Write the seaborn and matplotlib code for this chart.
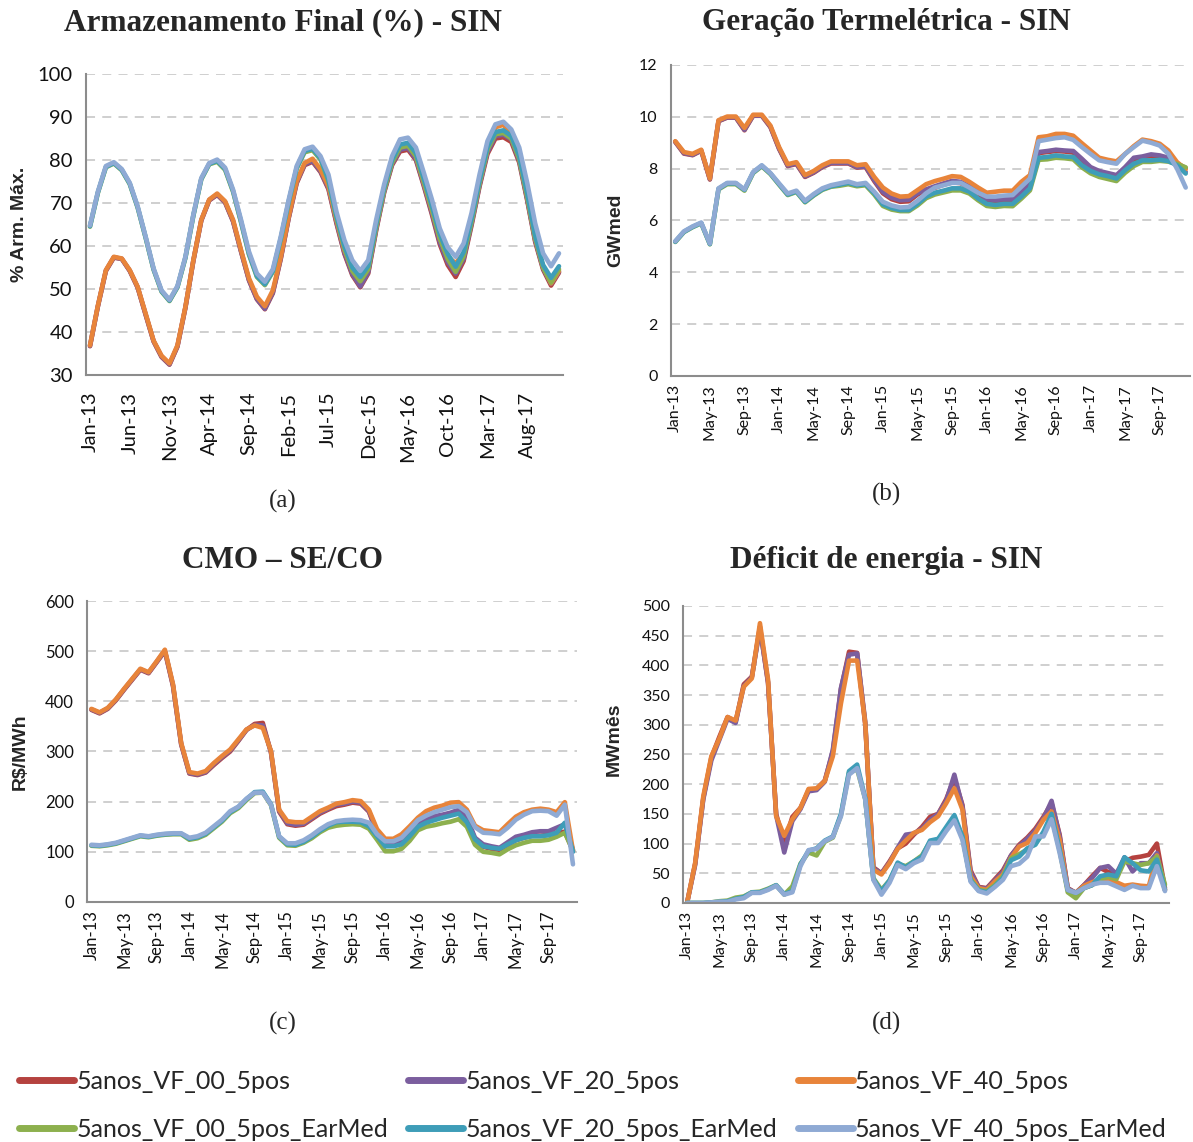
import numpy as np
import pandas as pd
import seaborn as sns
import matplotlib.pyplot as plt
from matplotlib.lines import Line2D

# eixo de meses (Jan-13 .. Dec-17)
meses = pd.date_range('2013-01-01', periods=60, freq='MS').strftime('%b-%y').tolist()

series = ['5anos_VF_00_5pos', '5anos_VF_20_5pos', '5anos_VF_40_5pos',
          '5anos_VF_00_5pos_EarMed', '5anos_VF_20_5pos_EarMed', '5anos_VF_40_5pos_EarMed']
cores = ['#B5423F', '#7B5E9E', '#E8843A', '#8DB04E', '#3E9DB8', '#8FAAD4']

# (a) Armazenamento final (%)
arm_00 = [36.7, 46.0, 54.2, 57.3, 57.0, 54.2, 50.3, 44.0, 37.8, 34.2, 32.4, 36.6, 45.6, 56.5, 65.9, 70.6, 71.9, 70.1, 65.7, 58.7,
          52.0, 47.6, 45.3, 49.0, 57.0, 66.5, 74.6, 78.8, 79.6, 77.2, 73.2, 65.3, 58.2, 53.2, 50.4, 53.6, 63.6, 72.4, 78.8, 82.0,
          82.4, 80.0, 73.9, 67.4, 60.4, 55.6, 52.8, 56.5, 64.8, 73.8, 81.4, 85.0, 85.3, 84.2, 79.4, 70.6, 61.0, 54.5, 50.8, 53.8]
arm_20 = [36.8, 46.1, 54.3, 57.4, 57.0, 54.3, 50.4, 44.1, 37.9, 34.3, 32.5, 36.7, 45.7, 56.6, 66.0, 70.7, 72.0, 70.2, 65.8, 58.8,
          52.1, 47.7, 45.4, 49.2, 57.2, 66.6, 74.8, 79.0, 79.8, 77.4, 73.5, 65.6, 58.5, 53.5, 50.6, 53.9, 63.9, 72.6, 79.1, 82.4,
          82.8, 80.3, 74.2, 67.8, 60.9, 56.2, 53.6, 57.0, 65.2, 74.1, 81.8, 85.6, 85.9, 84.8, 79.8, 70.9, 61.3, 54.8, 51.2, 54.0]
arm_40 = [36.9, 46.2, 54.4, 57.5, 57.1, 54.4, 50.5, 44.3, 38.0, 34.5, 32.7, 36.9, 45.8, 56.7, 66.1, 70.8, 72.2, 70.4, 66.1, 59.1,
          52.5, 48.2, 46.0, 49.7, 57.5, 66.9, 75.1, 79.3, 80.3, 77.8, 73.9, 66.1, 59.1, 54.4, 52.1, 54.8, 64.5, 73.1, 79.7, 83.2,
          83.6, 80.9, 74.7, 68.4, 61.8, 57.5, 56.0, 58.3, 66.1, 74.7, 82.5, 87.6, 88.2, 86.0, 80.5, 71.5, 61.8, 55.2, 51.3, 54.2]
arm_00_em = [64.5, 72.4, 78.3, 79.2, 77.6, 74.4, 68.9, 61.9, 54.5, 49.4, 47.2, 50.4, 57.2, 67.0, 75.5, 79.0, 79.6, 77.7, 72.6, 65.5,
             58.0, 52.8, 50.9, 54.0, 61.6, 70.2, 78.0, 81.8, 82.3, 80.1, 75.0, 66.5, 59.4, 54.2, 51.8, 54.6, 64.4, 73.0, 79.4, 82.9,
             83.3, 80.9, 74.9, 68.6, 61.8, 57.0, 54.0, 57.6, 65.6, 74.6, 82.4, 86.0, 86.3, 85.0, 80.2, 71.4, 61.8, 55.0, 51.5, 54.6]
arm_20_em = [64.6, 72.5, 78.4, 79.3, 77.7, 74.5, 69.0, 62.0, 54.6, 49.5, 47.3, 50.5, 57.3, 67.1, 75.6, 79.1, 79.8, 77.9, 72.8, 65.7,
             58.2, 53.0, 51.1, 54.2, 61.8, 70.4, 78.2, 82.1, 82.6, 80.4, 75.4, 67.0, 60.0, 55.0, 52.8, 55.4, 65.1, 73.6, 80.0, 83.6,
             84.0, 81.6, 75.6, 69.4, 62.8, 58.2, 55.2, 58.6, 66.4, 75.2, 83.0, 86.5, 86.9, 85.6, 80.9, 72.2, 62.4, 55.6, 52.6, 55.3]
arm_40_em = [64.8, 72.7, 78.6, 79.5, 77.9, 74.7, 69.2, 62.2, 54.8, 49.7, 47.5, 50.7, 57.5, 67.3, 75.8, 79.3, 80.1, 78.2, 73.1, 66.1,
             58.7, 53.6, 51.7, 54.6, 62.2, 70.8, 78.6, 82.5, 83.1, 80.9, 76.6, 68.0, 61.4, 56.7, 54.2, 56.7, 66.1, 74.3, 80.9, 84.8,
             85.2, 82.9, 77.0, 70.9, 64.1, 59.7, 57.5, 60.6, 67.7, 76.6, 84.4, 88.3, 88.9, 87.1, 82.9, 74.7, 65.3, 58.3, 55.3, 58.3]

# (b) Geracao termeletrica (GWmed)
gt_00 = [9.03, 8.58, 8.52, 8.69, 7.58, 9.83, 9.97, 9.97, 9.48, 10.04, 10.04, 9.60, 8.76, 8.10, 8.18, 7.68, 7.84, 8.06, 8.20, 8.20,
         8.20, 8.04, 8.06, 7.52, 7.05, 6.82, 6.72, 6.74, 7.00, 7.18, 7.26, 7.38, 7.47, 7.44, 7.26, 7.05, 6.76, 6.73, 6.76, 6.76,
         7.05, 7.38, 8.60, 8.64, 8.68, 8.66, 8.62, 8.32, 8.00, 7.85, 7.77, 7.70, 8.00, 8.36, 8.42, 8.50, 8.46, 8.38, 8.20, 8.02]
gt_20 = [9.04, 8.60, 8.53, 8.70, 7.60, 9.84, 9.98, 9.98, 9.50, 10.05, 10.05, 9.62, 8.78, 8.12, 8.20, 7.70, 7.86, 8.08, 8.22, 8.22,
         8.22, 8.06, 8.08, 7.56, 7.10, 6.88, 6.78, 6.80, 7.05, 7.20, 7.32, 7.43, 7.53, 7.49, 7.32, 7.11, 6.82, 6.79, 6.82, 6.82,
         7.11, 7.43, 8.64, 8.68, 8.73, 8.70, 8.68, 8.38, 8.06, 7.91, 7.83, 7.75, 8.06, 8.42, 8.47, 8.55, 8.51, 8.42, 8.19, 7.87]
gt_40 = [9.06, 8.64, 8.57, 8.73, 7.62, 9.87, 10.01, 10.01, 9.57, 10.08, 10.08, 9.66, 8.83, 8.17, 8.25, 7.75, 7.91, 8.13, 8.28, 8.28,
         8.28, 8.13, 8.17, 7.68, 7.27, 7.04, 6.92, 6.94, 7.17, 7.40, 7.52, 7.61, 7.71, 7.68, 7.49, 7.27, 7.07, 7.11, 7.15, 7.15,
         7.49, 7.75, 9.21, 9.25, 9.34, 9.34, 9.27, 8.98, 8.70, 8.42, 8.34, 8.28, 8.57, 8.87, 9.12, 9.06, 8.96, 8.70, 8.25, 7.98]
gt_00_em = [5.17, 5.55, 5.74, 5.89, 5.08, 7.20, 7.40, 7.40, 7.15, 7.83, 8.09, 7.79, 7.38, 6.98, 7.10, 6.70, 6.96, 7.18, 7.30, 7.34,
            7.40, 7.32, 7.36, 7.00, 6.56, 6.42, 6.36, 6.36, 6.58, 6.86, 7.00, 7.08, 7.16, 7.16, 7.04, 6.78, 6.56, 6.52, 6.56, 6.55,
            6.84, 7.16, 8.34, 8.36, 8.42, 8.40, 8.36, 8.05, 7.82, 7.68, 7.60, 7.52, 7.84, 8.10, 8.26, 8.26, 8.30, 8.27, 8.18, 8.05]
gt_20_em = [5.18, 5.56, 5.75, 5.90, 5.09, 7.22, 7.43, 7.43, 7.18, 7.85, 8.11, 7.81, 7.40, 7.00, 7.12, 6.72, 6.98, 7.20, 7.32, 7.38,
            7.45, 7.36, 7.40, 7.05, 6.62, 6.48, 6.40, 6.40, 6.64, 6.92, 7.07, 7.15, 7.24, 7.24, 7.11, 6.85, 6.64, 6.60, 6.64, 6.64,
            6.92, 7.24, 8.42, 8.45, 8.51, 8.47, 8.45, 8.13, 7.91, 7.78, 7.71, 7.62, 7.94, 8.19, 8.32, 8.32, 8.34, 8.29, 8.13, 7.81]
gt_40_em = [5.20, 5.58, 5.77, 5.92, 5.11, 7.24, 7.45, 7.45, 7.20, 7.87, 8.13, 7.83, 7.43, 7.04, 7.15, 6.76, 7.02, 7.24, 7.36, 7.43,
            7.50, 7.40, 7.45, 7.11, 6.72, 6.58, 6.50, 6.52, 6.76, 7.05, 7.27, 7.36, 7.45, 7.45, 7.27, 7.07, 6.92, 6.92, 6.96, 6.98,
            7.30, 7.62, 9.06, 9.12, 9.18, 9.21, 9.11, 8.83, 8.57, 8.32, 8.25, 8.19, 8.57, 8.83, 9.08, 9.00, 8.89, 8.57, 8.00, 7.27]

# (c) CMO SE/CO (R$/MWh)
cmo_00 = [383, 376, 385, 402, 423, 443, 463, 456, 478, 500, 430, 314, 256, 253, 258, 273, 287, 300, 321, 343,
          355, 357, 298, 180, 155, 152, 154, 165, 176, 184, 191, 194, 198, 196, 180, 135, 115, 115, 120, 135,
          155, 163, 168, 171, 174, 178, 165, 125, 110, 106, 104, 114, 123, 128, 132, 132, 134, 138, 140, 102]
cmo_20 = [384, 377, 386, 403, 424, 444, 464, 457, 479, 501, 432, 315, 257, 254, 259, 275, 289, 302, 322, 343,
          353, 352, 299, 182, 157, 154, 156, 167, 178, 186, 194, 196, 200, 198, 181, 141, 118, 118, 123, 139,
          158, 166, 171, 174, 178, 184, 168, 128, 115, 111, 108, 119, 130, 134, 139, 141, 141, 148, 155, 104]
cmo_40 = [385, 378, 387, 404, 425, 445, 465, 458, 480, 503, 434, 317, 259, 256, 261, 277, 291, 304, 324, 344,
          352, 347, 301, 184, 161, 159, 159, 170, 181, 188, 196, 199, 203, 201, 184, 145, 126, 126, 135, 151,
          168, 181, 188, 192, 198, 199, 184, 152, 143, 141, 139, 155, 170, 179, 184, 186, 184, 179, 199, 102]
cmo_00_em = [112, 111, 113, 116, 121, 126, 131, 129, 132, 134, 135, 135, 124, 127, 134, 147, 160, 177, 187, 203,
             217, 218, 193, 128, 113, 112, 118, 127, 139, 148, 152, 154, 155, 154, 146, 124, 101, 101, 106, 122,
             143, 150, 153, 157, 160, 165, 150, 114, 100, 98, 95, 105, 113, 118, 122, 122, 124, 130, 138, 102]
cmo_20_em = [113, 112, 114, 117, 122, 127, 132, 130, 133, 135, 136, 136, 126, 129, 136, 149, 162, 179, 189, 205,
             219, 220, 195, 130, 115, 114, 120, 130, 142, 152, 159, 160, 160, 159, 151, 131, 111, 111, 115, 131,
             150, 158, 163, 168, 172, 176, 159, 125, 111, 108, 106, 115, 123, 128, 131, 131, 133, 138, 158, 100]
cmo_40_em = [114, 113, 115, 118, 123, 128, 133, 131, 134, 136, 137, 137, 128, 131, 138, 151, 164, 181, 190, 206,
             218, 218, 194, 131, 117, 117, 123, 133, 145, 155, 161, 163, 164, 163, 158, 135, 121, 121, 128, 145,
             163, 172, 179, 184, 189, 191, 179, 149, 138, 137, 135, 148, 164, 174, 181, 182, 181, 172, 194, 75]

# (d) Deficit de energia (MWmes)
def_00 = [0, 66, 176, 245, 280, 313, 305, 368, 381, 465, 370, 150, 100, 145, 160, 190, 192, 206, 255, 360,
          423, 421, 300, 60, 50, 70, 92, 100, 115, 128, 145, 150, 175, 210, 165, 55, 27, 25, 40, 55,
          80, 98, 110, 125, 145, 168, 115, 25, 17, 30, 45, 59, 52, 50, 70, 76, 78, 81, 100, 25]
def_20 = [0, 64, 174, 240, 275, 310, 303, 365, 380, 462, 372, 148, 85, 138, 158, 188, 190, 204, 258, 362,
          418, 420, 305, 58, 50, 68, 93, 115, 117, 125, 140, 150, 172, 216, 162, 52, 26, 24, 38, 52,
          80, 96, 108, 122, 142, 172, 112, 24, 17, 30, 42, 59, 62, 49, 77, 53, 67, 67, 84, 22]
def_40 = [0, 67, 179, 247, 277, 313, 307, 364, 378, 471, 376, 146, 113, 141, 160, 192, 193, 205, 247, 336,
          408, 408, 303, 56, 48, 67, 91, 105, 118, 123, 136, 146, 168, 193, 157, 45, 25, 22, 36, 48,
          76, 95, 101, 118, 140, 154, 106, 22, 17, 29, 35, 39, 40, 35, 29, 31, 29, 28, 80, 22]
def_00_em = [0, 0, 0, 1, 3, 4, 9, 11, 18, 19, 24, 30, 14, 28, 66, 85, 80, 103, 110, 148,
             220, 225, 175, 42, 22, 38, 66, 62, 70, 80, 103, 106, 125, 145, 110, 40, 22, 20, 30, 45,
             75, 82, 90, 100, 118, 145, 88, 18, 8, 25, 30, 40, 44, 40, 70, 67, 64, 67, 78, 31]
def_20_em = [0, 0, 0, 1, 2, 3, 7, 10, 18, 18, 23, 30, 15, 20, 65, 88, 92, 105, 112, 150,
             222, 233, 176, 40, 20, 38, 68, 60, 70, 78, 105, 108, 128, 148, 112, 38, 21, 18, 28, 42,
             72, 78, 92, 98, 120, 150, 90, 22, 17, 25, 30, 45, 48, 45, 77, 67, 55, 53, 73, 22]
def_40_em = [0, 0, 0, 1, 2, 2, 6, 8, 17, 17, 22, 29, 14, 18, 62, 89, 91, 104, 111, 146,
             216, 227, 174, 39, 14, 34, 64, 57, 67, 73, 101, 101, 121, 139, 106, 36, 20, 16, 27, 39,
             62, 66, 78, 112, 112, 141, 84, 22, 17, 25, 31, 34, 34, 28, 22, 29, 25, 25, 62, 20]

sns.set_style('white')
plt.rcParams['font.family'] = ['Lato', 'DejaVu Sans']

fig = plt.figure(figsize=(11.93, 11.42), dpi=100)
cinza = '#8C8C8C'


def painel(rect, dados, ylim, yticks, passo, fs, xpad, ylabel, lab_xy, titulo, tit_xy, letra, letra_xy):
    ax = fig.add_axes(rect)
    df = pd.DataFrame(dict(zip(series, dados)))
    df['mes'] = range(60)
    longo = df.melt(id_vars='mes', var_name='serie', value_name='valor')
    sns.lineplot(data=longo, x='mes', y='valor', hue='serie', hue_order=series,
                 palette=cores, lw=3.3, legend=False, ax=ax,
                 solid_joinstyle='round', solid_capstyle='round')
    ax.set_xlim(-0.5, 59.5)
    ax.set_ylim(*ylim)
    ax.set_yticks(yticks)
    ax.grid(axis='y', color='#CCCCCC', linestyle=(0, (5, 4)), lw=1.3)
    ax.set_axisbelow(True)
    for s in ['top', 'right']:
        ax.spines[s].set_visible(False)
    for s in ['left', 'bottom']:
        ax.spines[s].set_color(cinza)
        ax.spines[s].set_linewidth(1.5)
    pos = list(range(0, 60, passo))
    ax.set_xticks(pos)
    ax.set_xticklabels([meses[i] for i in pos], rotation=90)
    ax.set_xticks(sorted(set(list(np.arange(-0.5, 60, passo)) + [59.5])), minor=True)
    ax.tick_params(axis='x', which='major', length=0, pad=xpad, labelsize=fs, labelcolor='#111111')
    ax.tick_params(axis='x', which='minor', length=6, color=cinza, width=1.5)
    ax.tick_params(axis='y', length=6, color=cinza, width=1.5, labelsize=fs, labelcolor='#111111')
    ax.set_xlabel('')
    ax.set_ylabel(ylabel, fontfamily='Liberation Sans', fontweight='bold', fontsize=14)
    ax.yaxis.set_label_coords(*lab_xy)
    fig.text(tit_xy[0], tit_xy[1], titulo, ha='center', va='center',
             family='Liberation Serif', weight='bold', fontsize=22.5)
    fig.text(letra_xy[0], letra_xy[1], letra, ha='center', va='center',
             family='Liberation Serif', fontsize=18)
    return ax


painel([0.0721, 0.6716, 0.3998, 0.2636],
       [arm_00, arm_20, arm_40, arm_00_em, arm_20_em, arm_40_em],
       (30, 100), range(30, 101, 10), 5, 14.5, 12, '% Arm. Máx.', (-0.122, 0.5),
       'Armazenamento Final (%) - SIN', (0.237, 0.980), '(a)', (0.237, 0.561))

painel([0.5624, 0.6708, 0.4351, 0.2723],
       [gt_00, gt_20, gt_40, gt_00_em, gt_20_em, gt_40_em],
       (0, 12), range(0, 13, 2), 4, 11.5, 6, 'GWmed', (-0.089, 0.47),
       'Geração Termelétrica - SIN', (0.7427, 0.980), '(b)', (0.7427, 0.567))

painel([0.0732, 0.2102, 0.4105, 0.2635],
       [cmo_00, cmo_20, cmo_40, cmo_00_em, cmo_20_em, cmo_40_em],
       (0, 600), range(0, 601, 100), 4, 12, 6, 'R$/MWh', (-0.119, 0.5),
       'CMO – SE/CO', (0.237, 0.5095), '(c)', (0.237, 0.104))

painel([0.5725, 0.2093, 0.4074, 0.2601],
       [def_00, def_20, def_40, def_00_em, def_20_em, def_40_em],
       (0, 500), range(0, 501, 50), 4, 11.5, 6, 'MWmês', (-0.123, 0.55),
       'Déficit de energia - SIN', (0.7427, 0.5095), '(d)', (0.7427, 0.104))

# legenda: 3 colunas, ordem por coluna
ordem = [0, 3, 1, 4, 2, 5]
alcas = [Line2D([], [], color=cores[i], lw=5) for i in ordem]
fig.legend(alcas, [series[i] for i in ordem], ncol=3, loc='center',
           bbox_to_anchor=(0.497, 0.032), frameon=False, fontsize=18,
           handlelength=2.2, handletextpad=0.1, columnspacing=0.8, labelspacing=1.0)

fig.savefig('out.png', dpi=100)
